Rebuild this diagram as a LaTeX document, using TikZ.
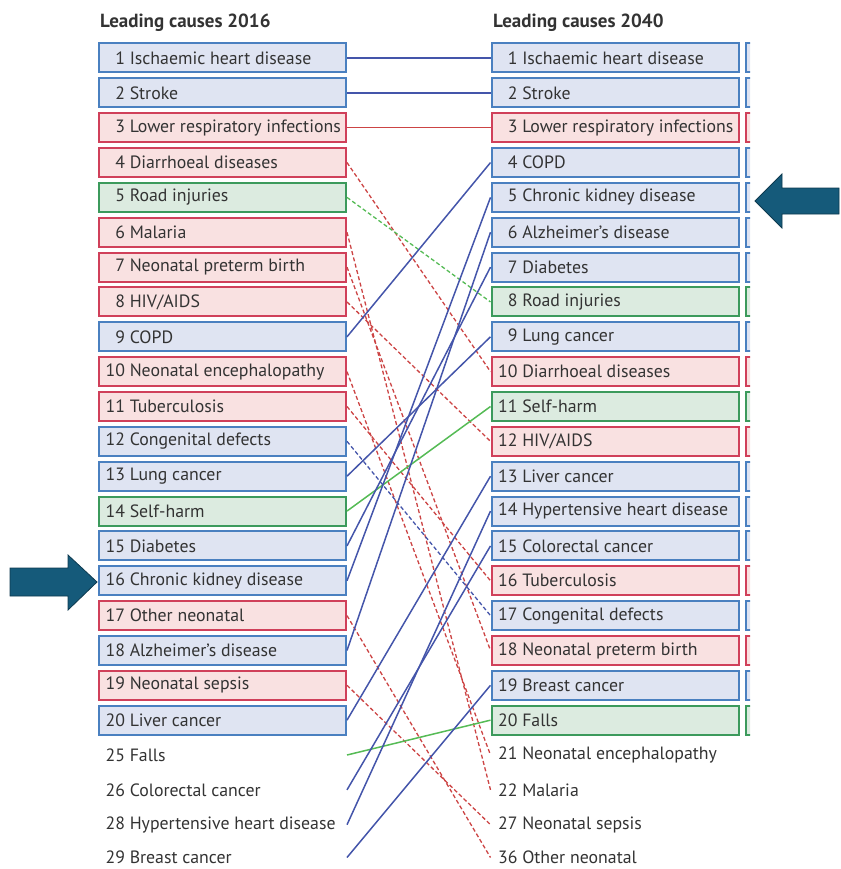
\documentclass[tikz,border=0pt]{standalone}
\usepackage{fontspec}
\setmainfont{PT Sans}
\definecolor{bfill}{HTML}{DFE4F2}
\definecolor{bdraw}{HTML}{4A80C0}
\definecolor{rfill}{HTML}{F9E1E1}
\definecolor{rdraw}{HTML}{D0405A}
\definecolor{gfill}{HTML}{DCEBE0}
\definecolor{gdraw}{HTML}{3C9A5C}
\definecolor{bline}{HTML}{4455AA}
\definecolor{rline}{HTML}{CC4444}
\definecolor{gline}{HTML}{55BB55}
\definecolor{txt}{HTML}{333333}
\definecolor{arrfill}{HTML}{155A7A}
\definecolor{arrdraw}{HTML}{0D3A4F}
\newcommand\rowy[1]{{58+(#1-1)*34.85}}
\newcommand\itx[2]{\makebox[239pt][l]{\makebox[22pt][r]{#1} #2}}
\begin{document}
\begin{tikzpicture}[x=1pt,y=-1pt,
  item/.style={minimum width=247pt,minimum height=29pt,inner xsep=4pt,inner ysep=0pt,font=\fontsize{17.8}{20}\selectfont,text=txt,line width=2pt},
  bb/.style={item,draw=bdraw,fill=bfill},
  rb/.style={item,draw=rdraw,fill=rfill},
  gb/.style={item,draw=gdraw,fill=gfill},
  nb/.style={item,minimum height=18pt},
  bl/.style={draw=bline,line width=1.5pt},
  rl/.style={draw=rline,line width=1.3pt,dash pattern=on 4pt off 2.5pt},
  gl/.style={draw=gline,line width=1.5pt},
  gd/.style={draw=gline,line width=1.3pt,dash pattern=on 4pt off 2.5pt},
  hdr/.style={anchor=west,font=\bfseries\fontsize{19}{21}\selectfont,text=txt,inner sep=0pt},
  arr/.style={fill=arrfill,draw=arrdraw,line width=0.8pt,line join=miter}
]
\useasboundingbox (0,0) rectangle (840,869);
\node[hdr] (h1) at (100,23) {Leading causes 2016};
\node[hdr] (h2) at (493,23) {Leading causes 2040};
% partial third column
\begin{scope}
\clip (744,0) rectangle (750,869);
\foreach \i/\s in {1/b,2/b,3/r,4/b,5/b,6/b,7/b,8/g,9/b,10/r,11/g,12/r,13/b,14/b,15/b,16/r,17/b,18/r,19/b,20/g}{
  \draw[\s draw,fill=\s fill,line width=2pt] (746,{58+(\i-1)*34.85-14.5}) rectangle (800,{58+(\i-1)*34.85+14.5});
}
\end{scope}
% left column
\def\lx{222.5}
\node[bb] (L1) at (\lx,\rowy{1}) {\itx{1}{Ischaemic heart disease}};
\node[bb] (L2) at (\lx,\rowy{2}) {\itx{2}{Stroke}};
\node[rb] (L3) at (\lx,\rowy{3}) {\itx{3}{Lower respiratory infections}};
\node[rb] (L4) at (\lx,\rowy{4}) {\itx{4}{Diarrhoeal diseases}};
\node[gb] (L5) at (\lx,\rowy{5}) {\itx{5}{Road injuries}};
\node[rb] (L6) at (\lx,\rowy{6}) {\itx{6}{Malaria}};
\node[rb] (L7) at (\lx,\rowy{7}) {\itx{7}{Neonatal preterm birth}};
\node[rb] (L8) at (\lx,\rowy{8}) {\itx{8}{HIV/AIDS}};
\node[bb] (L9) at (\lx,\rowy{9}) {\itx{9}{COPD}};
\node[rb] (L10) at (\lx,\rowy{10}) {\itx{10}{Neonatal encephalopathy}};
\node[rb] (L11) at (\lx,\rowy{11}) {\itx{11}{Tuberculosis}};
\node[bb] (L12) at (\lx,\rowy{12}) {\itx{12}{Congenital defects}};
\node[bb] (L13) at (\lx,\rowy{13}) {\itx{13}{Lung cancer}};
\node[gb] (L14) at (\lx,\rowy{14}) {\itx{14}{Self-harm}};
\node[bb] (L15) at (\lx,\rowy{15}) {\itx{15}{Diabetes}};
\node[bb] (L16) at (\lx,\rowy{16}) {\itx{16}{Chronic kidney disease}};
\node[rb] (L17) at (\lx,\rowy{17}) {\itx{17}{Other neonatal}};
\node[bb] (L18) at (\lx,\rowy{18}) {\itx{18}{Alzheimer’s disease}};
\node[rb] (L19) at (\lx,\rowy{19}) {\itx{19}{Neonatal sepsis}};
\node[bb] (L20) at (\lx,\rowy{20}) {\itx{20}{Liver cancer}};
\node[nb] (L25) at (\lx,\rowy{21}) {\itx{25}{Falls}};
\node[nb] (L26) at (\lx,\rowy{22}) {\itx{26}{Colorectal cancer}};
\node[nb] (L28) at (\lx,\rowy{23}) {\itx{28}{Hypertensive heart disease}};
\node[nb] (L29) at (\lx,857.5) {\itx{29}{Breast cancer}};
% right column
\def\rx{615}
\node[bb] (R1) at (\rx,\rowy{1}) {\itx{1}{Ischaemic heart disease}};
\node[bb] (R2) at (\rx,\rowy{2}) {\itx{2}{Stroke}};
\node[rb] (R3) at (\rx,\rowy{3}) {\itx{3}{Lower respiratory infections}};
\node[bb] (R4) at (\rx,\rowy{4}) {\itx{4}{COPD}};
\node[bb] (R5) at (\rx,\rowy{5}) {\itx{5}{Chronic kidney disease}};
\node[bb] (R6) at (\rx,\rowy{6}) {\itx{6}{Alzheimer’s disease}};
\node[bb] (R7) at (\rx,\rowy{7}) {\itx{7}{Diabetes}};
\node[gb] (R8) at (\rx,\rowy{8}) {\itx{8}{Road injuries}};
\node[bb] (R9) at (\rx,\rowy{9}) {\itx{9}{Lung cancer}};
\node[rb] (R10) at (\rx,\rowy{10}) {\itx{10}{Diarrhoeal diseases}};
\node[gb] (R11) at (\rx,\rowy{11}) {\itx{11}{Self-harm}};
\node[rb] (R12) at (\rx,\rowy{12}) {\itx{12}{HIV/AIDS}};
\node[bb] (R13) at (\rx,\rowy{13}) {\itx{13}{Liver cancer}};
\node[bb] (R14) at (\rx,\rowy{14}) {\itx{14}{Hypertensive heart disease}};
\node[bb] (R15) at (\rx,\rowy{15}) {\itx{15}{Colorectal cancer}};
\node[rb] (R16) at (\rx,\rowy{16}) {\itx{16}{Tuberculosis}};
\node[bb] (R17) at (\rx,\rowy{17}) {\itx{17}{Congenital defects}};
\node[rb] (R18) at (\rx,\rowy{18}) {\itx{18}{Neonatal preterm birth}};
\node[bb] (R19) at (\rx,\rowy{19}) {\itx{19}{Breast cancer}};
\node[gb] (R20) at (\rx,\rowy{20}) {\itx{20}{Falls}};
\node[nb] (R21) at (\rx,\rowy{21}) {\itx{21}{Neonatal encephalopathy}};
\node[nb] (R22) at (\rx,\rowy{22}) {\itx{22}{Malaria}};
\node[nb] (R27) at (\rx,\rowy{23}) {\itx{27}{Neonatal sepsis}};
\node[nb] (R36) at (\rx,857.5) {\itx{36}{Other neonatal}};
% connectors
\draw[bl] (L1.east) -- (R1.west);
\draw[bl] (L2.east) -- (R2.west);
\draw[draw=rline,line width=1.5pt] (L3.east) -- (R3.west);
\draw[rl] (L4.east) -- (R10.west);
\draw[gd] (L5.east) -- (R8.west);
\draw[rl] (L6.east) -- (R22.west);
\draw[rl] (L7.east) -- (R18.west);
\draw[rl] (L8.east) -- (R12.west);
\draw[bl] (L9.east) -- (R4.west);
\draw[rl] (L10.east) -- (R21.west);
\draw[rl] (L11.east) -- (R16.west);
\draw[bl,line width=1.3pt,dash pattern=on 4pt off 2.5pt] (L12.east) -- (R17.west);
\draw[bl] (L13.east) -- (R9.west);
\draw[gl] (L14.east) -- (R11.west);
\draw[bl] (L15.east) -- (R7.west);
\draw[bl] (L16.east) -- (R5.west);
\draw[rl] (L17.east) -- (R36.west);
\draw[bl] (L18.east) -- (R6.west);
\draw[rl] (L19.east) -- (R27.west);
\draw[bl] (L20.east) -- (R13.west);
\draw[gl] (L25.east) -- (R20.west);
\draw[bl] (L26.east) -- (R15.west);
\draw[bl] (L28.east) -- (R14.west);
\draw[bl] (L29.east) -- (R19.west);
% arrows
\draw[arr] (755,201) -- (782,174) -- (782,188) -- (839,188) -- (839,214) -- (782,214) -- (782,228) -- cycle;
\draw[arr] (97,582) -- (68,555) -- (68,568) -- (10,568) -- (10,596) -- (68,596) -- (68,610) -- cycle;
\end{tikzpicture}
\end{document}
